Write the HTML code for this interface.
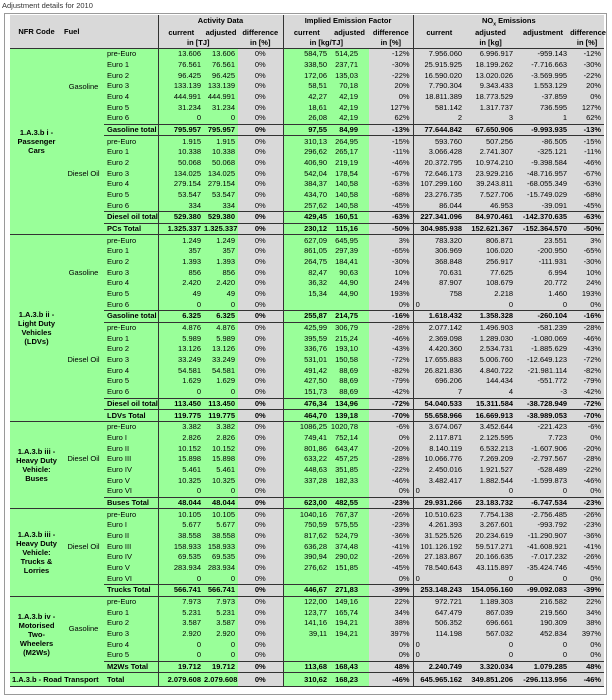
<!DOCTYPE html>
<html><head><meta charset="utf-8">
<style>
html,body{margin:0;padding:0;background:#fff;width:612px;height:700px;overflow:hidden}
body{position:relative;font-family:"Liberation Sans Narrow","Liberation Sans",sans-serif;color:#000}
.title{position:absolute;left:2px;top:1px;font-size:7.5px;color:#333;font-family:"Liberation Sans",sans-serif}
.frame{position:absolute;left:4px;top:13px;width:601px;height:680px;border:1px solid #9a9a9a;background:#fff}
table{position:absolute;left:10px;top:15px;width:594px;border-collapse:collapse;table-layout:fixed;background:#d9d9d9;font-size:7.5px}
td{padding:0 3px 0 0;height:10.68px;line-height:10px;white-space:nowrap;text-align:right;vertical-align:middle}
.h td{font-weight:bold;text-align:center;padding:0}
.h1 td{height:12px}.h2 td{height:11px}.h3 td{height:10px}
sub{line-height:0;font-size:5px}
.hb{border-bottom:1px solid #333}
.g{background:#99ff99}
.l{border-left:1px solid #333}
.p{padding-right:11px}
.m{text-align:center;padding:0}
.c{background:#99ff99;text-align:left;padding-left:3px}
.f{background:#99ff99}
.nf{background:#99ff99;text-align:center;font-weight:bold;line-height:9px;padding:0}
.fu{background:#99ff99;text-align:center;padding:0}
.t td{font-weight:bold;border-top:1px solid #333;border-bottom:1px solid #333}
.t td.f{border-top:none;border-bottom:none}
.s td{border-top:1px solid #333}
.z td{height:13px}
.lz{text-align:left;padding-left:2px}
</style></head><body>
<div class="title">Adjustment details for 2010</div>
<div class="frame"></div>
<table>
<colgroup><col style="width:53px"><col style="width:41px"><col style="width:54px"><col style="width:46px"><col style="width:34px"><col style="width:45px"><col style="width:47px"><col style="width:39px"><col style="width:44px"><col style="width:52px"><col style="width:51px"><col style="width:54px"><col style="width:34px"></colgroup>
<tr class="h h1"><td rowspan="3" class="hb">NFR Code</td><td rowspan="3" class="hb" style="text-align:left;padding-left:1px">Fuel</td><td rowspan="3" class="hb"></td><td colspan="3" class="l">Activity Data</td><td colspan="3" class="l">Implied Emission Factor</td><td colspan="4" class="l">NO<sub>x</sub> Emissions</td></tr>
<tr class="h h2"><td class="l">current</td><td>adjusted</td><td>difference</td><td class="l">current</td><td>adjusted</td><td>difference</td><td class="l">current</td><td>adjusted</td><td>adjustment</td><td>difference</td></tr>
<tr class="h h3"><td colspan="2" class="l hb">in [TJ]</td><td class="hb">in [%]</td><td colspan="2" class="l hb">in [kg/TJ]</td><td class="hb">in [%]</td><td class="l hb"></td><td class="hb">in [kg]</td><td class="hb"></td><td class="hb">in [%]</td></tr>

<tr class="s"><td rowspan="17" class="nf">1.A.3.b i -<br>Passenger<br>Cars</td><td rowspan="7" class="fu">Gasoline</td><td class="c">pre-Euro</td><td class="g l">13.606</td><td class="g">13.606</td><td class="m">0%</td><td class="g l">584,75</td><td class="g p">514,25</td><td>-12%</td><td class="l">7.956.060</td><td>6.996.917</td><td>-959.143</td><td>-12%</td></tr>
<tr><td class="c">Euro 1</td><td class="g l">76.561</td><td class="g">76.561</td><td class="m">0%</td><td class="g l">338,50</td><td class="g p">237,71</td><td>-30%</td><td class="l">25.915.925</td><td>18.199.262</td><td>-7.716.663</td><td>-30%</td></tr>
<tr><td class="c">Euro 2</td><td class="g l">96.425</td><td class="g">96.425</td><td class="m">0%</td><td class="g l">172,06</td><td class="g p">135,03</td><td>-22%</td><td class="l">16.590.020</td><td>13.020.026</td><td>-3.569.995</td><td>-22%</td></tr>
<tr><td class="c">Euro 3</td><td class="g l">133.139</td><td class="g">133.139</td><td class="m">0%</td><td class="g l">58,51</td><td class="g p">70,18</td><td>20%</td><td class="l">7.790.304</td><td>9.343.433</td><td>1.553.129</td><td>20%</td></tr>
<tr><td class="c">Euro 4</td><td class="g l">444.991</td><td class="g">444.991</td><td class="m">0%</td><td class="g l">42,27</td><td class="g p">42,19</td><td>0%</td><td class="l">18.811.389</td><td>18.773.529</td><td>-37.859</td><td>0%</td></tr>
<tr><td class="c">Euro 5</td><td class="g l">31.234</td><td class="g">31.234</td><td class="m">0%</td><td class="g l">18,61</td><td class="g p">42,19</td><td>127%</td><td class="l">581.142</td><td>1.317.737</td><td>736.595</td><td>127%</td></tr>
<tr><td class="c">Euro 6</td><td class="g l">0</td><td class="g">0</td><td class="m">0%</td><td class="g l">26,08</td><td class="g p">42,19</td><td>62%</td><td class="l">2</td><td>3</td><td>1</td><td>62%</td></tr>
<tr class="t"><td class="f"></td><td class="c">Gasoline total</td><td class="g l">795.957</td><td class="g">795.957</td><td class="m">0%</td><td class="g l">97,55</td><td class="g p">84,99</td><td>-13%</td><td class="l">77.644.842</td><td>67.650.906</td><td>-9.993.935</td><td>-13%</td></tr>
<tr><td rowspan="7" class="fu">Diesel Oil</td><td class="c">pre-Euro</td><td class="g l">1.915</td><td class="g">1.915</td><td class="m">0%</td><td class="g l">310,13</td><td class="g p">264,95</td><td>-15%</td><td class="l">593.760</td><td>507.256</td><td>-86.505</td><td>-15%</td></tr>
<tr><td class="c">Euro 1</td><td class="g l">10.338</td><td class="g">10.338</td><td class="m">0%</td><td class="g l">296,62</td><td class="g p">265,17</td><td>-11%</td><td class="l">3.066.428</td><td>2.741.307</td><td>-325.121</td><td>-11%</td></tr>
<tr><td class="c">Euro 2</td><td class="g l">50.068</td><td class="g">50.068</td><td class="m">0%</td><td class="g l">406,90</td><td class="g p">219,19</td><td>-46%</td><td class="l">20.372.795</td><td>10.974.210</td><td>-9.398.584</td><td>-46%</td></tr>
<tr><td class="c">Euro 3</td><td class="g l">134.025</td><td class="g">134.025</td><td class="m">0%</td><td class="g l">542,04</td><td class="g p">178,54</td><td>-67%</td><td class="l">72.646.173</td><td>23.929.216</td><td>-48.716.957</td><td>-67%</td></tr>
<tr><td class="c">Euro 4</td><td class="g l">279.154</td><td class="g">279.154</td><td class="m">0%</td><td class="g l">384,37</td><td class="g p">140,58</td><td>-63%</td><td class="l">107.299.160</td><td>39.243.811</td><td>-68.055.349</td><td>-63%</td></tr>
<tr><td class="c">Euro 5</td><td class="g l">53.547</td><td class="g">53.547</td><td class="m">0%</td><td class="g l">434,70</td><td class="g p">140,58</td><td>-68%</td><td class="l">23.276.735</td><td>7.527.706</td><td>-15.749.029</td><td>-68%</td></tr>
<tr><td class="c">Euro 6</td><td class="g l">334</td><td class="g">334</td><td class="m">0%</td><td class="g l">257,62</td><td class="g p">140,58</td><td>-45%</td><td class="l">86.044</td><td>46.953</td><td>-39.091</td><td>-45%</td></tr>
<tr class="t"><td class="f"></td><td class="c">Diesel oil total</td><td class="g l">529.380</td><td class="g">529.380</td><td class="m">0%</td><td class="g l">429,45</td><td class="g p">160,51</td><td>-63%</td><td class="l">227.341.096</td><td>84.970.461</td><td>-142.370.635</td><td>-63%</td></tr>
<tr class="t"><td class="f"></td><td class="c">PCs Total</td><td class="g l">1.325.337</td><td class="g">1.325.337</td><td class="m">0%</td><td class="g l">230,12</td><td class="g p">115,16</td><td>-50%</td><td class="l">304.985.938</td><td>152.621.367</td><td>-152.364.570</td><td>-50%</td></tr>

<tr class="s"><td rowspan="17" class="nf">1.A.3.b ii -<br>Light Duty<br>Vehicles<br>(LDVs)</td><td rowspan="7" class="fu">Gasoline</td><td class="c">pre-Euro</td><td class="g l">1.249</td><td class="g">1.249</td><td class="m">0%</td><td class="g l">627,09</td><td class="g p">645,95</td><td>3%</td><td class="l">783.320</td><td>806.871</td><td>23.551</td><td>3%</td></tr>
<tr><td class="c">Euro 1</td><td class="g l">357</td><td class="g">357</td><td class="m">0%</td><td class="g l">861,05</td><td class="g p">297,39</td><td>-65%</td><td class="l">306.969</td><td>106.020</td><td>-200.950</td><td>-65%</td></tr>
<tr><td class="c">Euro 2</td><td class="g l">1.393</td><td class="g">1.393</td><td class="m">0%</td><td class="g l">264,75</td><td class="g p">184,41</td><td>-30%</td><td class="l">368.848</td><td>256.917</td><td>-111.931</td><td>-30%</td></tr>
<tr><td class="c">Euro 3</td><td class="g l">856</td><td class="g">856</td><td class="m">0%</td><td class="g l">82,47</td><td class="g p">90,63</td><td>10%</td><td class="l">70.631</td><td>77.625</td><td>6.994</td><td>10%</td></tr>
<tr><td class="c">Euro 4</td><td class="g l">2.420</td><td class="g">2.420</td><td class="m">0%</td><td class="g l">36,32</td><td class="g p">44,90</td><td>24%</td><td class="l">87.907</td><td>108.679</td><td>20.772</td><td>24%</td></tr>
<tr><td class="c">Euro 5</td><td class="g l">49</td><td class="g">49</td><td class="m">0%</td><td class="g l">15,34</td><td class="g p">44,90</td><td>193%</td><td class="l">758</td><td>2.218</td><td>1.460</td><td>193%</td></tr>
<tr><td class="c">Euro 6</td><td class="g l">0</td><td class="g">0</td><td class="m">0%</td><td class="g l"></td><td class="g p"></td><td>0%</td><td class="l lz">0</td><td>0</td><td>0</td><td>0%</td></tr>
<tr class="t"><td class="f"></td><td class="c">Gasoline total</td><td class="g l">6.325</td><td class="g">6.325</td><td class="m">0%</td><td class="g l">255,87</td><td class="g p">214,75</td><td>-16%</td><td class="l">1.618.432</td><td>1.358.328</td><td>-260.104</td><td>-16%</td></tr>
<tr><td rowspan="7" class="fu">Diesel Oil</td><td class="c">pre-Euro</td><td class="g l">4.876</td><td class="g">4.876</td><td class="m">0%</td><td class="g l">425,99</td><td class="g p">306,79</td><td>-28%</td><td class="l">2.077.142</td><td>1.496.903</td><td>-581.239</td><td>-28%</td></tr>
<tr><td class="c">Euro 1</td><td class="g l">5.989</td><td class="g">5.989</td><td class="m">0%</td><td class="g l">395,59</td><td class="g p">215,24</td><td>-46%</td><td class="l">2.369.098</td><td>1.289.030</td><td>-1.080.069</td><td>-46%</td></tr>
<tr><td class="c">Euro 2</td><td class="g l">13.126</td><td class="g">13.126</td><td class="m">0%</td><td class="g l">336,76</td><td class="g p">193,10</td><td>-43%</td><td class="l">4.420.360</td><td>2.534.731</td><td>-1.885.629</td><td>-43%</td></tr>
<tr><td class="c">Euro 3</td><td class="g l">33.249</td><td class="g">33.249</td><td class="m">0%</td><td class="g l">531,01</td><td class="g p">150,58</td><td>-72%</td><td class="l">17.655.883</td><td>5.006.760</td><td>-12.649.123</td><td>-72%</td></tr>
<tr><td class="c">Euro 4</td><td class="g l">54.581</td><td class="g">54.581</td><td class="m">0%</td><td class="g l">491,42</td><td class="g p">88,69</td><td>-82%</td><td class="l">26.821.836</td><td>4.840.722</td><td>-21.981.114</td><td>-82%</td></tr>
<tr><td class="c">Euro 5</td><td class="g l">1.629</td><td class="g">1.629</td><td class="m">0%</td><td class="g l">427,50</td><td class="g p">88,69</td><td>-79%</td><td class="l">696.206</td><td>144.434</td><td>-551.772</td><td>-79%</td></tr>
<tr><td class="c">Euro 6</td><td class="g l">0</td><td class="g">0</td><td class="m">0%</td><td class="g l">151,73</td><td class="g p">88,69</td><td>-42%</td><td class="l">7</td><td>4</td><td>-3</td><td>-42%</td></tr>
<tr class="t"><td class="f"></td><td class="c">Diesel oil total</td><td class="g l">113.450</td><td class="g">113.450</td><td class="m">0%</td><td class="g l">476,34</td><td class="g p">134,96</td><td>-72%</td><td class="l">54.040.533</td><td>15.311.584</td><td>-38.728.949</td><td>-72%</td></tr>
<tr class="t"><td class="f"></td><td class="c">LDVs Total</td><td class="g l">119.775</td><td class="g">119.775</td><td class="m">0%</td><td class="g l">464,70</td><td class="g p">139,18</td><td>-70%</td><td class="l">55.658.966</td><td>16.669.913</td><td>-38.989.053</td><td>-70%</td></tr>

<tr class="s"><td rowspan="8" class="nf">1.A.3.b iii -<br>Heavy Duty<br>Vehicle:<br>Buses</td><td rowspan="7" class="fu">Diesel Oil</td><td class="c">pre-Euro</td><td class="g l">3.382</td><td class="g">3.382</td><td class="m">0%</td><td class="g l">1086,25</td><td class="g p">1020,78</td><td>-6%</td><td class="l">3.674.067</td><td>3.452.644</td><td>-221.423</td><td>-6%</td></tr>
<tr><td class="c">Euro I</td><td class="g l">2.826</td><td class="g">2.826</td><td class="m">0%</td><td class="g l">749,41</td><td class="g p">752,14</td><td>0%</td><td class="l">2.117.871</td><td>2.125.595</td><td>7.723</td><td>0%</td></tr>
<tr><td class="c">Euro II</td><td class="g l">10.152</td><td class="g">10.152</td><td class="m">0%</td><td class="g l">801,86</td><td class="g p">643,47</td><td>-20%</td><td class="l">8.140.119</td><td>6.532.213</td><td>-1.607.906</td><td>-20%</td></tr>
<tr><td class="c">Euro III</td><td class="g l">15.898</td><td class="g">15.898</td><td class="m">0%</td><td class="g l">633,22</td><td class="g p">457,25</td><td>-28%</td><td class="l">10.066.776</td><td>7.269.209</td><td>-2.797.567</td><td>-28%</td></tr>
<tr><td class="c">Euro IV</td><td class="g l">5.461</td><td class="g">5.461</td><td class="m">0%</td><td class="g l">448,63</td><td class="g p">351,85</td><td>-22%</td><td class="l">2.450.016</td><td>1.921.527</td><td>-528.489</td><td>-22%</td></tr>
<tr><td class="c">Euro V</td><td class="g l">10.325</td><td class="g">10.325</td><td class="m">0%</td><td class="g l">337,28</td><td class="g p">182,33</td><td>-46%</td><td class="l">3.482.417</td><td>1.882.544</td><td>-1.599.873</td><td>-46%</td></tr>
<tr><td class="c">Euro VI</td><td class="g l">0</td><td class="g">0</td><td class="m">0%</td><td class="g l"></td><td class="g p"></td><td>0%</td><td class="l lz">0</td><td>0</td><td>0</td><td>0%</td></tr>
<tr class="t"><td class="f"></td><td class="c">Buses Total</td><td class="g l">48.044</td><td class="g">48.044</td><td class="m">0%</td><td class="g l">623,00</td><td class="g p">482,55</td><td>-23%</td><td class="l">29.931.266</td><td>23.183.732</td><td>-6.747.534</td><td>-23%</td></tr>

<tr class="s"><td rowspan="8" class="nf">1.A.3.b iii -<br>Heavy Duty<br>Vehicle:<br>Trucks &amp;<br>Lorries</td><td rowspan="7" class="fu">Diesel Oil</td><td class="c">pre-Euro</td><td class="g l">10.105</td><td class="g">10.105</td><td class="m">0%</td><td class="g l">1040,16</td><td class="g p">767,37</td><td>-26%</td><td class="l">10.510.623</td><td>7.754.138</td><td>-2.756.485</td><td>-26%</td></tr>
<tr><td class="c">Euro I</td><td class="g l">5.677</td><td class="g">5.677</td><td class="m">0%</td><td class="g l">750,59</td><td class="g p">575,55</td><td>-23%</td><td class="l">4.261.393</td><td>3.267.601</td><td>-993.792</td><td>-23%</td></tr>
<tr><td class="c">Euro II</td><td class="g l">38.558</td><td class="g">38.558</td><td class="m">0%</td><td class="g l">817,62</td><td class="g p">524,79</td><td>-36%</td><td class="l">31.525.526</td><td>20.234.619</td><td>-11.290.907</td><td>-36%</td></tr>
<tr><td class="c">Euro III</td><td class="g l">158.933</td><td class="g">158.933</td><td class="m">0%</td><td class="g l">636,28</td><td class="g p">374,48</td><td>-41%</td><td class="l">101.126.192</td><td>59.517.271</td><td>-41.608.921</td><td>-41%</td></tr>
<tr><td class="c">Euro IV</td><td class="g l">69.535</td><td class="g">69.535</td><td class="m">0%</td><td class="g l">390,94</td><td class="g p">290,02</td><td>-26%</td><td class="l">27.183.867</td><td>20.166.635</td><td>-7.017.232</td><td>-26%</td></tr>
<tr><td class="c">Euro V</td><td class="g l">283.934</td><td class="g">283.934</td><td class="m">0%</td><td class="g l">276,62</td><td class="g p">151,85</td><td>-45%</td><td class="l">78.540.643</td><td>43.115.897</td><td>-35.424.746</td><td>-45%</td></tr>
<tr><td class="c">Euro VI</td><td class="g l">0</td><td class="g">0</td><td class="m">0%</td><td class="g l"></td><td class="g p"></td><td>0%</td><td class="l lz">0</td><td>0</td><td>0</td><td>0%</td></tr>
<tr class="t"><td class="f"></td><td class="c">Trucks Total</td><td class="g l">566.741</td><td class="g">566.741</td><td class="m">0%</td><td class="g l">446,67</td><td class="g p">271,83</td><td>-39%</td><td class="l">253.148.243</td><td>154.056.160</td><td>-99.092.083</td><td>-39%</td></tr>

<tr class="s"><td rowspan="7" class="nf">1.A.3.b iv -<br>Motorised<br>Two-<br>Wheelers<br>(M2Ws)</td><td rowspan="6" class="fu">Gasoline</td><td class="c">pre-Euro</td><td class="g l">7.973</td><td class="g">7.973</td><td class="m">0%</td><td class="g l">122,00</td><td class="g p">149,16</td><td>22%</td><td class="l">972.721</td><td>1.189.303</td><td>216.582</td><td>22%</td></tr>
<tr><td class="c">Euro 1</td><td class="g l">5.231</td><td class="g">5.231</td><td class="m">0%</td><td class="g l">123,77</td><td class="g p">165,74</td><td>34%</td><td class="l">647.479</td><td>867.039</td><td>219.560</td><td>34%</td></tr>
<tr><td class="c">Euro 2</td><td class="g l">3.587</td><td class="g">3.587</td><td class="m">0%</td><td class="g l">141,16</td><td class="g p">194,21</td><td>38%</td><td class="l">506.352</td><td>696.661</td><td>190.309</td><td>38%</td></tr>
<tr><td class="c">Euro 3</td><td class="g l">2.920</td><td class="g">2.920</td><td class="m">0%</td><td class="g l">39,11</td><td class="g p">194,21</td><td>397%</td><td class="l">114.198</td><td>567.032</td><td>452.834</td><td>397%</td></tr>
<tr><td class="c">Euro 4</td><td class="g l">0</td><td class="g">0</td><td class="m">0%</td><td class="g l"></td><td class="g p"></td><td>0%</td><td class="l lz">0</td><td>0</td><td>0</td><td>0%</td></tr>
<tr><td class="c">Euro 5</td><td class="g l">0</td><td class="g">0</td><td class="m">0%</td><td class="g l"></td><td class="g p"></td><td>0%</td><td class="l lz">0</td><td>0</td><td>0</td><td>0%</td></tr>
<tr class="t"><td class="f"></td><td class="c">M2Ws Total</td><td class="g l">19.712</td><td class="g">19.712</td><td class="m">0%</td><td class="g l">113,68</td><td class="g p">168,43</td><td>48%</td><td class="l">2.240.749</td><td>3.320.034</td><td>1.079.285</td><td>48%</td></tr>

<tr class="s t z"><td colspan="2" class="g" style="text-align:left;padding-left:2px">1.A.3.b - Road Transport</td><td class="c">Total</td><td class="g l">2.079.608</td><td class="g">2.079.608</td><td class="m">0%</td><td class="g l">310,62</td><td class="g p">168,23</td><td>-46%</td><td class="l">645.965.162</td><td>349.851.206</td><td>-296.113.956</td><td>-46%</td></tr>
</table>
</body></html>
